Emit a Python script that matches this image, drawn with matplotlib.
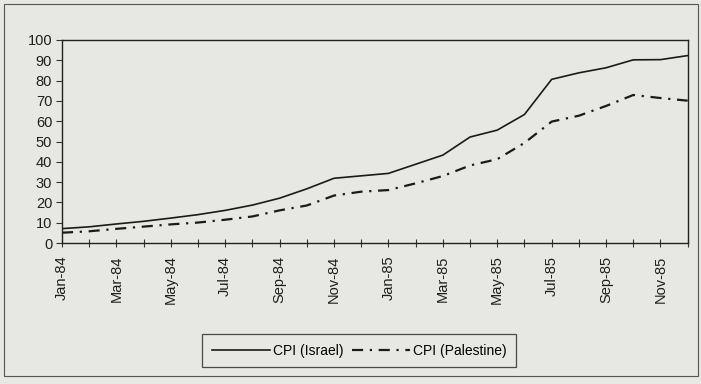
import numpy as np
import matplotlib.pyplot as plt
from matplotlib.patches import Rectangle

plt.rcParams['font.family'] = ['Liberation Sans', 'DejaVu Sans']

# monthly CPI, Jan-84 .. Dec-85
months = ['Jan-84', 'Feb-84', 'Mar-84', 'Apr-84', 'May-84', 'Jun-84',
          'Jul-84', 'Aug-84', 'Sep-84', 'Oct-84', 'Nov-84', 'Dec-84',
          'Jan-85', 'Feb-85', 'Mar-85', 'Apr-85', 'May-85', 'Jun-85',
          'Jul-85', 'Aug-85', 'Sep-85', 'Oct-85', 'Nov-85', 'Dec-85']
cpi_israel = [7.1, 8.0, 9.4, 10.7, 12.3, 14.0, 16.1, 18.7, 22.1, 26.7, 31.9, 33.1,
              34.3, 38.8, 43.3, 52.2, 55.6, 63.3, 80.6, 83.8, 86.3, 90.2, 90.3, 92.3]
cpi_palestine = [5.1, 5.8, 7.0, 8.1, 9.2, 10.1, 11.5, 13.1, 16.1, 18.5, 23.4, 25.3,
                 26.1, 29.4, 33.0, 38.2, 41.3, 49.3, 59.8, 62.7, 67.5, 72.9, 71.4, 70.1]
yticks = list(range(0, 101, 10))

bg = '#e7e8e4'
fig = plt.figure(figsize=(7.01, 3.84), dpi=100, facecolor=bg)
ax = fig.add_axes([0.0884, 0.367, 0.8926, 0.529], facecolor=bg)

x = np.arange(len(months))
ax.plot(x, cpi_israel, color='#1a1a1a', lw=1.2, label='CPI (Israel)')
ax.plot(x, cpi_palestine, color='#1a1a1a', lw=1.6, linestyle=(0, (5, 3, 1, 3)),
        label='CPI (Palestine)')

ax.set_xlim(0, len(months) - 1)
ax.set_ylim(0, 100)
ax.set_yticks(yticks)
ax.set_yticklabels([str(v) for v in yticks], fontsize=10.5, color='#1e1e1e')
ax.set_xticks(x[::2])
ax.set_xticklabels(months[::2], rotation=90, fontsize=10.5, color='#1e1e1e')
ax.set_xticks(x, minor=True)
ax.tick_params(axis='x', which='both', direction='inout', length=6, width=0.8,
               color='#333333', pad=6)
ax.tick_params(axis='y', direction='out', length=4, width=0.8, color='#333333', pad=3)

for s in ax.spines.values():
    s.set_color('#222222')
    s.set_linewidth(1.0)

leg = fig.legend(loc='center', bbox_to_anchor=(0.512, 0.087), ncol=2, fontsize=10,
                 frameon=True, fancybox=False, edgecolor='#222222', facecolor=bg,
                 handlelength=4.2, handletextpad=0.2, columnspacing=0.6,
                 borderpad=0.7)
leg.get_frame().set_linewidth(0.9)

# outer chart border
fig.patches.append(Rectangle((0.006, 0.02), 0.99, 0.97, transform=fig.transFigure,
                             fill=False, edgecolor='#555555', lw=0.8))

fig.savefig('out.png', dpi=100, facecolor=bg)
